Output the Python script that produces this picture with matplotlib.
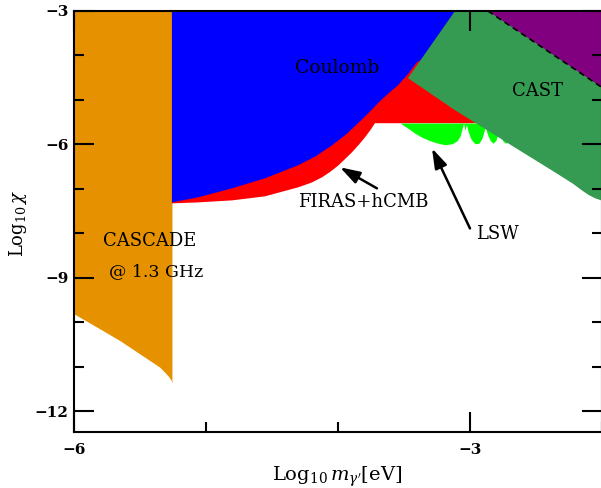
import matplotlib
matplotlib.use("Agg")
import matplotlib.pyplot as plt

# ---------------- data (log10 m [eV], log10 chi) ----------------
cascade_x = [-6.0, -5.803, -5.652, -5.5, -5.348, -5.288, -5.265, -5.258]
cascade_low = [-9.813, -10.151, -10.415, -10.715, -11.017, -11.204, -11.30, -11.361]

coulomb_x = [-5.258, -5.258, -5.061, -4.803, -4.553, -4.303, -4.170, -4.045,
             -3.940, -3.848, -3.770, -3.697, -3.620, -3.545, -3.470, -3.40,
             -3.0, -3.0]
coulomb_y = [-3.0, -7.305, -7.192, -6.989, -6.764, -6.471, -6.270, -6.020,
             -5.780, -5.524, -5.300, -5.073, -4.860, -4.668, -4.420, -4.15,
             -3.6, -3.0]

firas_x = [-5.258, -5.258, -5.061, -4.803, -4.553, -4.303, -4.200, -4.121,
           -4.060, -4.0, -3.950, -3.894, -3.840, -3.795, -3.750, -3.720,
           -2.95, -2.95]
firas_y = [-3.0, -7.327, -7.305, -7.260, -7.169, -6.967, -6.860, -6.741,
           -6.620, -6.480, -6.340, -6.178, -6.000, -5.840, -5.660, -5.524,
           -5.524, -3.0]

lsw_x = [-3.530, -3.470, -3.417, -3.364, -3.303, -3.242, -3.189, -3.136,
         -3.098, -3.076, -3.061, -3.049, -3.038, -3.027, -3.015, -2.992,
         -2.962, -2.932, -2.909, -2.894, -2.883, -2.871, -2.848, -2.826,
         -2.803, -2.788, -2.780, -2.769, -2.750, -2.727, -2.697, -2.667, -2.621]
lsw_low = [-5.52, -5.637, -5.750, -5.840, -5.919, -5.975, -6.009, -5.986,
           -5.919, -5.817, -5.659, -5.524, -5.682, -5.547, -5.705, -5.885,
           -5.986, -5.975, -5.862, -5.705, -5.592, -5.750, -5.907, -5.975,
           -5.907, -5.750, -5.637, -5.772, -5.930, -5.975, -5.907, -6.020, -6.020]
lsw_top = -5.52

cast_x = [-3.114, -3.470, -3.114, -2.621, -2.470, -2.356, -2.220, -2.150,
          -2.100, -2.050, -2.0, -2.0]
cast_y = [-3.0, -4.510, -5.231, -6.143, -6.420, -6.630, -6.885, -7.040,
          -7.140, -7.215, -7.265, -3.0]

purple_x = [-2.864, -2.0]
purple_y = [-3.0, -4.72]

x_major = [-6, -3]
x_minor = [-5, -4, -2]
y_major = [-3, -6, -9, -12]
y_minor = [-4, -5, -7, -8, -10, -11]

# ---------------- style ----------------
plt.rcParams['font.family'] = ['DejaVu Serif']
plt.rcParams['mathtext.fontset'] = 'dejavuserif'

C_ORANGE = '#e69200'
C_BLUE = '#0000ff'
C_RED = '#ff0000'
C_LIME = '#00ff00'
C_CAST = '#359b52'
C_PURPLE = '#800080'

fig = plt.figure(figsize=(6.01, 4.88), dpi=100)
ax = fig.add_axes([74 / 601, 1 - 432 / 488, (602 - 74) / 601, (432 - 11) / 488])
ax.set_xlim(-6, -2)
ax.set_ylim(-12.47, -3)

ax.fill_between(cascade_x, cascade_low, -3.0, color=C_ORANGE, lw=0, zorder=1)
ax.fill(firas_x, firas_y, color=C_RED, lw=0, zorder=1.1)
ax.fill(coulomb_x, coulomb_y, color=C_BLUE, lw=0, zorder=1.2)
ax.fill_between(lsw_x, lsw_low, lsw_top, color=C_LIME, lw=0, zorder=1.3)
ax.fill(cast_x, cast_y, color=C_CAST, lw=0, zorder=1.4)
ax.fill(purple_x + [-2.0], purple_y + [-3.0], color=C_PURPLE, lw=0, zorder=1.5)
ax.plot(purple_x, purple_y, color='black', lw=1.2, ls=(0, (3.5, 2.5)), zorder=1.6)

# labels
tk = dict(fontsize=13, color='black', zorder=5)
ax.text(-4.008, -4.285, 'Coulomb', ha='center', va='center', fontsize=13.5, zorder=5)
ax.text(-2.492, -4.803, 'CAST', ha='center', va='center', **tk)
ax.text(-5.424, -8.184, 'CASCADE', ha='center', va='center', **tk)
ax.text(-5.379, -8.860, '@ 1.3 GHz', ha='center', va='center', fontsize=12.5, zorder=5)
ax.text(-3.811, -7.305, 'FIRAS+hCMB', ha='center', va='center', **tk)
ax.text(-2.795, -8.026, 'LSW', ha='center', va='center', **tk)

arrow = dict(arrowstyle='-|>,head_length=1.0,head_width=0.32', color='black', lw=1.8,
             mutation_scale=12, shrinkA=0, shrinkB=0)
ax.annotate('', xy=(-3.985, -6.516), xytext=(-3.705, -6.989), arrowprops=arrow, zorder=5)
ax.annotate('', xy=(-3.288, -6.088), xytext=(-3.0, -7.891), arrowprops=arrow, zorder=5)

# ticks
ax.set_xticks(x_major)
ax.set_xticks(x_minor, minor=True)
ax.set_yticks(y_major)
ax.set_yticks(y_minor, minor=True)
ax.set_xticklabels(['\u22126', '\u22123'])
ax.set_yticklabels(['\u22123', '\u22126', '\u22129', '\u221212'])
ax.tick_params(which='both', direction='in', right=True, width=1.5, color='black')
ax.tick_params(which='major', top=True, length=14.5)
ax.tick_params(which='minor', top=False, length=7.5)
ax.tick_params(axis='x', which='major', pad=8)
ax.tick_params(axis='y', which='major', pad=4)
for lab in ax.get_xticklabels() + ax.get_yticklabels():
    lab.set_fontweight('bold')
    lab.set_fontsize(11)
for sp in ax.spines.values():
    sp.set_linewidth(1.5)

fig.text(337 / 601, 1 - 477 / 488, r"Log$_{10}\,m_{\gamma'}$[eV]", ha='center',
         va='center', fontsize=14)
fig.text(18 / 601, 1 - 223 / 488, r"Log$_{10}\,\chi$", ha='center', va='center',
         rotation=90, fontsize=13)

fig.savefig('out.png', dpi=100)
